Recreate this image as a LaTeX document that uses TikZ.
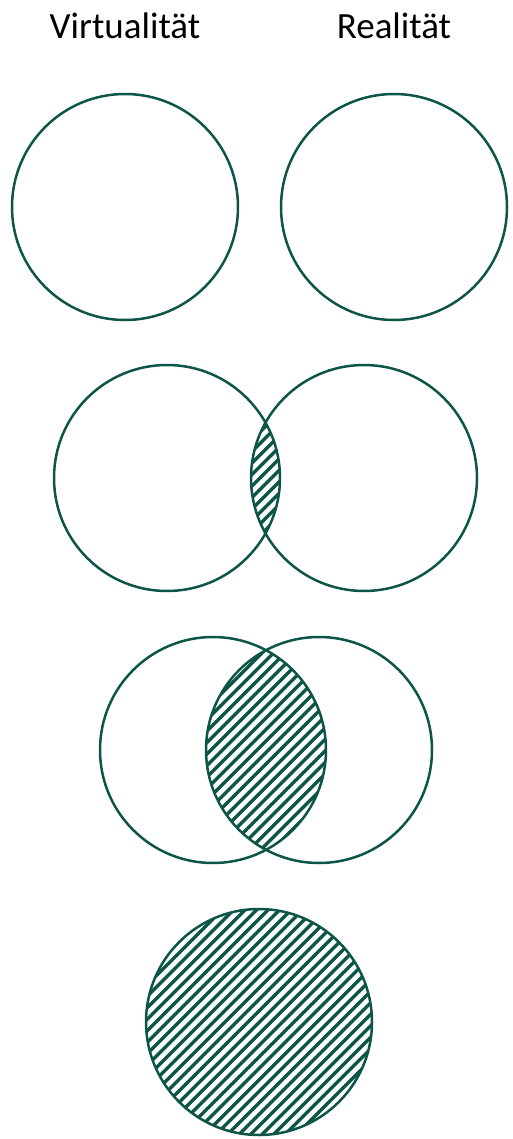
\documentclass[tikz,border=0pt]{standalone}
\usepackage{fontspec}
\setmainfont{Carlito}
\definecolor{teal}{RGB}{12,85,72}
\tikzset{
  ring/.style={draw=teal, line width=2.5pt},
  hatchline/.style={draw=teal, line width=3.3pt},
  label/.style={font=\fontsize{37}{42}\selectfont, text=black, anchor=base}
}
\begin{document}
\begin{tikzpicture}[x=1pt,y=-1pt]
\useasboundingbox (0,0) rectangle (512,1139);
% labels
\node[label] (virt) at (125,39) {Virtualität};
\node[label] (real) at (394,39) {Realität};
% row 1
\draw[ring] (125,207) circle (113);
\draw[ring] (394,207) circle (113);
% row 2 hatch
\begin{scope}
  \clip (167,478) circle (113);
  \clip (364,478) circle (113);
  \foreach \k in {600,611.5,...,900}
    \draw[hatchline] (\k-620,620) -- (\k-330,330);
\end{scope}
\draw[ring] (167,478) circle (113);
\draw[ring] (364,478) circle (113);
% row 3 hatch
\begin{scope}
  \clip (213,750) circle (113);
  \clip (319,750) circle (113);
  \foreach \k in {800,811.5,...,1250}
    \draw[hatchline] (\k-880,880) -- (\k-620,620);
\end{scope}
\draw[ring] (213,750) circle (113);
\draw[ring] (319,750) circle (113);
% row 4 hatch
\begin{scope}
  \clip (259,1022) circle (113);
  \foreach \k in {1040,1051.5,...,1520}
    \draw[hatchline] (\k-1139,1139) -- (\k-900,900);
\end{scope}
\draw[ring] (259,1022) circle (113);
\end{tikzpicture}
\end{document}
